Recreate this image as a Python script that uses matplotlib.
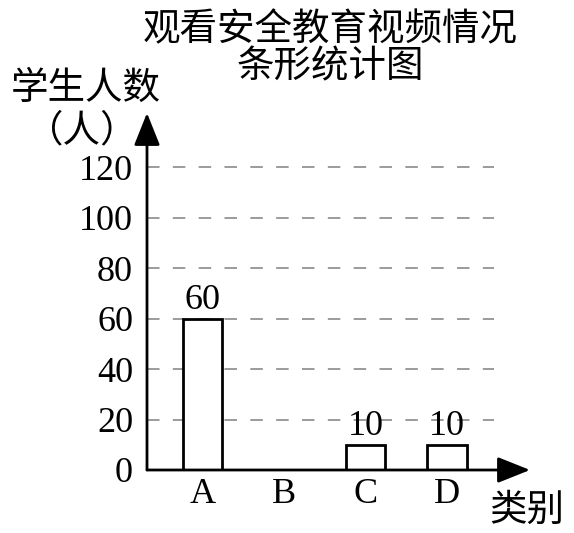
import matplotlib
matplotlib.use("Agg")
import matplotlib.pyplot as plt

# ---- data ----
categories = ["A", "B", "C", "D"]
values = [60, 0, 10, 10]
bar_labels = ["60", "", "10", "10"]
yticks = [0, 20, 40, 60, 80, 100, 120]
title_lines = ["观看安全教育视频情况", "条形统计图"]
ylabel_lines = ["学生人数", "（人）"]
xlabel = "类别"

W, H = 574, 533
fig = plt.figure(figsize=(W / 100, H / 100), dpi=100)

cjk = ["Noto Sans CJK SC", "DejaVu Sans"]
serif = ["Liberation Serif", "DejaVu Serif"]

# axes spanning from axis origin (147,470) to arrow tips (530,113) in pixels
ax = fig.add_axes([147 / W, (H - 470) / H, (530 - 147) / W, (470 - 113) / H])
x = list(range(len(categories)))
ax.set_xlim(-0.681, 4.018)
ax.set_ylim(0, 141.4)
for s in ax.spines.values():
    s.set_visible(False)

# dashed grid lines (not the zero line)
for t in yticks[1:]:
    ax.hlines(t, -0.681, 3.58, colors="#8a8a8a", linewidth=1.2,
              linestyles=(0, (7.5, 8.0)), zorder=1)

bars = ax.bar(x, values, width=0.49, facecolor="white", edgecolor="black",
              linewidth=2.0, zorder=2)
ax.bar_label(bars, labels=bar_labels, padding=1, fontsize=26,
             family=serif, zorder=3)

# axis arrows
arrow = dict(arrowstyle="-|>,head_length=1.0,head_width=0.4", color="black",
             lw=2.0, mutation_scale=20, shrinkA=0, shrinkB=0)
ax.annotate("", xy=(1, 0), xytext=(0, 0), xycoords="axes fraction",
            arrowprops=arrow, zorder=4, annotation_clip=False)
ax.annotate("", xy=(0, 1), xytext=(0, 0), xycoords="axes fraction",
            arrowprops=arrow, zorder=4, annotation_clip=False)

ax.set_xticks(x)
ax.set_xticklabels(categories, family=serif, fontsize=26)
ax.set_yticks(yticks)
ax.set_yticklabels([str(t) for t in yticks], family=serif, fontsize=26)
ax.tick_params(axis="x", length=0, pad=6)
ax.tick_params(axis="y", length=0, pad=10)

# titles and axis names
fig.text(330 / W, 1 - 30 / H, title_lines[0], ha="center", va="center",
         fontsize=27, family=cjk, fontweight="light")
fig.text(330 / W, 1 - 67 / H, title_lines[1], ha="center", va="center",
         fontsize=27, family=cjk, fontweight="light")
fig.text(86 / W, 1 - 88 / H, ylabel_lines[0], ha="center", va="center",
         fontsize=27, family=cjk, fontweight="light")
fig.text(82 / W, 1 - 131 / H, ylabel_lines[1], ha="center", va="center",
         fontsize=27, family=cjk, fontweight="light")
fig.text(527 / W, 1 - 510 / H, xlabel, ha="center", va="center",
         fontsize=27, family=cjk, fontweight="light")

fig.savefig("out.png", dpi=100, facecolor="white")
